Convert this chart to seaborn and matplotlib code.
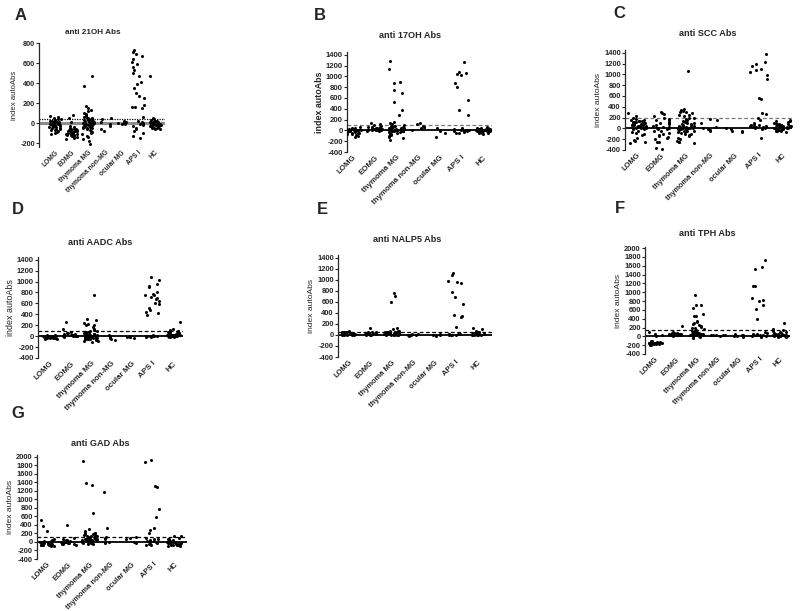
import numpy as np
import pandas as pd
import matplotlib
matplotlib.use("Agg")
import matplotlib.pyplot as plt
import seaborn as sns

sns.set_style("ticks")
plt.rcParams['font.family'] = ['Liberation Sans', 'DejaVu Sans']
plt.rcParams['axes.unicode_minus'] = False

categories = ["LOMG", "EOMG", "thymoma MG", "thymoma non-MG", "ocular MG", "APS I", "HC"]

# ---- anti 21OH Abs (A) ----
oh21 = [
    [70, 60, 50, 45, 40, 35, 30, 25, 20, 15, 10, 5, 0, -5, -10, -15, -20, -25, -30, -35, -40, -45, -50, -55, -60, -65, -70, -80, -90, -100, -110, 20, 0, -20, -40, 10, -10, -30],
    [85, 55, 15, -30, -40, -50, -55, -60, -65, -70, -75, -80, -85, -90, -95, -100, -105, -110, -115, -120, -125, -130, -140, -150, -160, -70, -90, -100, -80, -110, -60, -120],
    [470, 375, 175, 150, 135, 120, 105, 95, 85, 75, 65, 55, 50, 45, 40, 35, 30, 25, 20, 15, 10, 5, 0, -5, -10, -15, -20, -25, -30, -35, -40, -45, -50, -60, -70, -80, -90, -100, -110, -125, -140, -160, -180, -210, 0, 10, -10, 20, -20, 30, -30, 40, -40, 50, 0, -50, 15, -15],
    [55, 40, 10, -10, -30, -60, -75],
    [25, 15, 5, 0, -5, -10],
    [735, 715, 695, 675, 640, 615, 590, 560, 530, 505, 470, 410, 395, 350, 300, 270, 255, 180, 165, 160, 150, 60, 25, 10, 0, -10, -20, -30, -45, -60, -80, -100, -125, -150],
    [470, 50, 40, 30, 25, 20, 15, 10, 5, 0, -5, -10, -15, -20, -25, -30, -35, -40, -45, -50, -55, -60, 0, -10, -20, -30, 10, -40, -5, -15, -25, 20, -35, -45, 0, -20],
]

# ---- anti 17OH Abs (B) ----
oh17 = [
    [60, 45, 35, 25, 15, 10, 5, 0, -5, -10, -15, -20, -30, -40, -50, -60, -70, -80, -100, -115, 20, 0, -20, -40, 10, -10, 30, -30],
    [140, 110, 95, 80, 70, 60, 50, 40, 30, 25, 20, 15, 10, 5, 0, -10, -20, 40, 20, 0, 60, 30],
    [1290, 1130, 900, 880, 740, 700, 520, 370, 290, 150, 130, 110, 100, 90, 80, 70, 60, 50, 40, 30, 20, 10, 0, -10, -20, -30, -40, -50, -60, -70, -80, -100, -120, -150, -180, 0, 10, -10, 20, -20, 30, -30, 40, 50, 0, 5, -5, 15],
    [130, 110, 85, 70, 60, 50, 10],
    [50, 0, -20, -50, -130],
    [1270, 1080, 1060, 1040, 1030, 870, 800, 560, 370, 290, 40, 20, 10, 0, -10, -20, -30, -40, -50, 0, 10, -20],
    [60, 50, 40, 30, 20, 15, 10, 5, 0, -5, -10, -15, -20, -30, -40, -50, -60, 0, 10, -10, 20, -20, 30, -30, 0, 5, -5, 40, -40, 25],
]

# ---- anti SCC Abs (C) ----
scc = [
    [280, 220, 190, 175, 160, 150, 140, 130, 120, 110, 100, 90, 80, 70, 60, 50, 40, 30, 20, 10, 0, -10, -20, -40, -60, -80, -100, -130, -170, -220, -240, -260, -270, 100, 80, 60, 120, 40, 140, 20, 0, 90, 70],
    [300, 280, 260, 220, 200, 180, 150, 120, 100, 80, 50, 20, 0, -20, -50, -80, -100, -130, -150, -160, -180, -200, -250, -260, -360, -380, 60, 30, 10, -10, -40, 150, 100],
    [1060, 360, 345, 330, 300, 280, 250, 220, 200, 180, 160, 140, 120, 100, 80, 60, 40, 20, 0, -20, -40, -60, -80, -100, -120, -150, -180, -200, -230, -250, -260, -270, 0, 20, -20, 40, -40, 60, -60, 80, 100, 10, -10, 30, -30, 150, 200, 250, 300, 0, 50, -50, -100],
    [180, 160, 100, 20, 0, -10, -30, -40],
    [0, -20, -40, -55, -70],
    [1480, 1370, 1220, 1190, 1150, 1100, 1080, 1050, 990, 910, 560, 550, 280, 270, 200, 150, 100, 80, 60, 50, 40, 30, 20, 10, 0, -10, -180, 40, 60, 30],
    [160, 140, 130, 110, 100, 90, 80, 70, 60, 50, 40, 30, 20, 10, 0, -10, -20, -30, -40, -50, -60, 0, 20, 40, 60, 80, -20, 10, 30, 50, 70, -10, 0, 20, 40, -40, 90],
]

# ---- anti AADC Abs (D) ----
aadc = [
    [20, 15, 10, 5, 0, -5, -10, -15, -20, -25, -30, -35, -40, -45, -50, 0, -10, -20, -30, 10, -5, -15, -25],
    [260, 130, 80, 60, 50, 40, 30, 25, 20, 15, 10, 5, 0, -10, 30, 20, 10, 0, 40],
    [750, 320, 300, 250, 230, 210, 200, 160, 130, 110, 100, 90, 80, 70, 60, 50, 40, 30, 20, 10, 0, -10, -20, -30, -40, -50, -60, -70, -80, -90, -100, 0, 10, -10, 20, -20, 30, -30, 40, -40, 50, -50, 0, -60, 5, -5, 15, -15],
    [20, 0, -20, -40, -60, -70],
    [0, -10, -20, -10, -30],
    [1080, 1020, 960, 920, 900, 800, 780, 760, 750, 720, 700, 680, 640, 600, 580, 520, 480, 440, 420, 380, 20, 10, 0, -10, 0, 10, -10, 0, 5, -5],
    [260, 130, 110, 100, 80, 70, 60, 50, 40, 30, 20, 10, 0, -10, -20, 0, 10, 20, 30, 40, 50, -10, 0, 10, 20, -5, 5, 15, 25, 60, 80, 90],
]

# ---- anti NALP5 Abs (E) ----
nalp5 = [
    [80, 60, 50, 40, 30, 20, 10, 0, -10, 40, 20, 0, 60, 30, 10, -5, 50, 20, 5, 15],
    [120, 60, 50, 40, 30, 20, 10, 0, 40, 20, 0, 30, 10, 5, 50, 15],
    [760, 700, 590, 120, 100, 80, 70, 60, 50, 40, 30, 20, 10, 0, -10, 60, 40, 20, 0, 50, 30, 10, -5, 5, 15, 25, 35, 45, 0, 10, 20, 30, 40, 50, 60, 70, 0, 10, 20],
    [20, 10, 0, -10, -20, 5],
    [10, 0, -10, -20],
    [1120, 1080, 980, 960, 950, 780, 680, 570, 370, 350, 320, 140, 20, 10, 0, 10, 0, 20, 5, -5],
    [120, 100, 80, 60, 40, 20, 0, -10, 10, 30, 50, 20, 0, 40, 10, 5, 15, 25, 35, -5],
]

# ---- anti TPH Abs (F) ----
tph = [
    [90, 60, 40, 0, -100, -110, -120, -130, -140, -145, -150, -155, -160, -165, -170, -175, -180, -190, -200, -140, -150, -160, -130, -170, -150, -160],
    [230, 100, 80, 70, 60, 55, 50, 45, 40, 35, 30, 25, 20, 10, 60, 40, 50, 30, 70],
    [930, 720, 700, 640, 500, 470, 450, 340, 300, 280, 260, 220, 200, 180, 150, 120, 100, 80, 60, 40, 20, 0, -20, -30, 60, 40, 20, 0, 80, 100, 10, 30, 50, 70, 90, 110, 130, 160, 240, 320, 0, 20, 40, 60],
    [40, 30, 20, 10, 20, 30],
    [60, 40, 0, -20, 0, 20],
    [1720, 1570, 1530, 1150, 1140, 880, 830, 790, 720, 620, 400, 100, 80, 60, 40, 20, 0, -10, 30, 50, 10],
    [300, 160, 140, 120, 100, 80, 60, 40, 20, 0, -20, 10, 30, 50, 70, 90, 0, 20, 40, 60, -10, 5, 15, 25, 35, 45],
]

# ---- anti GAD Abs (G) ----
gad = [
    [520, 380, 260, 80, 50, 20, 0, -20, -40, -60, -80, -100, 0, -20, -40, -60, -80, -30, -50, -70, 10, -10, -90, 30],
    [400, 100, 60, 40, 20, 0, -20, -40, -60, 0, -20, -40, 20, -10, -30, -50, 10, 30, 50],
    [1900, 1380, 1340, 680, 300, 250, 220, 200, 180, 160, 140, 120, 100, 80, 60, 40, 20, 0, -20, -40, -50, 0, 20, 40, 60, 80, 100, 120, 140, 160, 180, 200, 10, 30, 50, 70, 90, 110, 130, 150, 0, 20, -10, -30, 40, 60],
    [1180, 320, 120, 100, 80, 0, -20],
    [120, 100, 80, 0, -20],
    [1930, 1870, 1320, 1290, 780, 580, 330, 290, 200, 100, 80, 60, 40, 20, 0, -20, -40, -60, -80, 10, -10, 30],
    [150, 130, 100, 60, 20, 0, -20, -40, -60, -80, -100, 0, -20, -40, -60, -80, -30, -50, -70, -10, 10, 40, 80, -90],
]

titles = ["anti 21OH Abs", "anti 17OH Abs", "anti SCC Abs", "anti AADC Abs",
          "anti NALP5 Abs", "anti TPH Abs", "anti GAD Abs"]
letters = ["A", "B", "C", "D", "E", "F", "G"]
cutoffs = [40, 100, 185, 90, 60, 150, 120]

W, H = 800, 611
fig = plt.figure(figsize=(8, 6.11), dpi=100)
fig.patch.set_facecolor("white")

# layout (pixels): left, right, top, bottom; font sizes per panel
layout = [
    dict(box=(39, 165, 43, 147), ylim=(-240, 800), yt=(-200, 800), xlim=(-0.96, 6.6),
         title=(93, 32), letter=(21, 15), cut_ls=(0, (1, 1)), cut_col="black",
         zero_col="#8c8c8c", zero_lw=2.2, xfs=4.8, yfs=5.3, lfs=5.6, lw="normal", tfs=5.9),
    dict(box=(347, 492, 52, 152), ylim=(-400, 1450), yt=(-400, 1400), xlim=(-0.28, 6.41),
         title=(410, 35), letter=(320, 15), cut_ls=(0, (3, 2)), cut_col="#777777",
         zero_col="black", zero_lw=1.3, xfs=5.7, yfs=5.6, lfs=6.4, lw="bold", tfs=6.6),
    dict(box=(625, 792, 50, 150), ylim=(-400, 1450), yt=(-400, 1400), xlim=(-0.49, 6.37),
         title=(708, 33), letter=(619, 14), cut_ls=(0, (3, 2)), cut_col="#777777",
         zero_col="black", zero_lw=1.3, xfs=5.4, yfs=5.4, lfs=6.1, lw="normal", tfs=6.6),
    dict(box=(38, 183, 257, 358), ylim=(-400, 1450), yt=(-400, 1400), xlim=(-0.59, 6.49),
         title=(100, 242), letter=(18, 210), cut_ls=(0, (3, 2)), cut_col="black",
         zero_col="black", zero_lw=1.3, xfs=5.7, yfs=5.6, lfs=6.4, lw="normal", tfs=6.6),
    dict(box=(338, 492, 255, 357), ylim=(-400, 1450), yt=(-400, 1400), xlim=(-0.52, 6.7),
         title=(407, 240), letter=(322, 210), cut_ls=(0, (3, 2)), cut_col="black",
         zero_col="black", zero_lw=1.3, xfs=5.4, yfs=5.4, lfs=6.1, lw="normal", tfs=6.6),
    dict(box=(645, 790, 247, 354), ylim=(-400, 2025), yt=(-400, 2000), xlim=(-0.48, 6.48),
         title=(707, 233), letter=(620, 208), cut_ls=(0, (3, 2)), cut_col="black",
         zero_col="black", zero_lw=1.3, xfs=5.4, yfs=5.4, lfs=6.1, lw="normal", tfs=6.6),
    dict(box=(37, 187, 455, 559), ylim=(-400, 2045), yt=(-400, 2000), xlim=(-0.47, 6.61),
         title=(100, 443), letter=(18, 413), cut_ls=(0, (3, 2)), cut_col="black",
         zero_col="black", zero_lw=1.3, xfs=5.4, yfs=5.4, lfs=6.1, lw="normal", tfs=6.6),
]

datasets = [oh21, oh17, scc, aadc, nalp5, tph, gad]

np.random.seed(7)
for data, ttl, let, cut, lay in zip(datasets, titles, letters, cutoffs, layout):
    l, r, t, b = lay["box"]
    ax = fig.add_axes([l / W, 1 - b / H, (r - l) / W, (b - t) / H])
    groups, values = [], []
    for cat, vals in zip(categories, data):
        groups += [cat] * len(vals)
        values += list(vals)
    df = pd.DataFrame({"group": groups, "value": values})
    sns.stripplot(data=df, x="group", y="value", order=categories, color="black",
                  size=2.2, jitter=0.36, linewidth=0, ax=ax, zorder=3)
    ax.axhline(0, color=lay["zero_col"], lw=lay["zero_lw"], zorder=2)
    ax.axhline(cut, color=lay["cut_col"], lw=0.9, ls=lay["cut_ls"], zorder=2)
    ax.set_xlim(*lay["xlim"])
    ax.set_ylim(*lay["ylim"])
    ax.set_yticks(np.arange(lay["yt"][0], lay["yt"][1] + 1, 200))
    ax.set_xticks(range(len(categories)))
    ax.set_xticklabels(categories, rotation=45, ha="right", rotation_mode="anchor",
                       fontsize=lay["xfs"], fontweight="bold")
    for lab in ax.get_yticklabels():
        lab.set_fontweight("bold")
    ax.tick_params(axis="y", labelsize=lay["yfs"], length=2, width=0.8, pad=1)
    ax.tick_params(axis="x", length=0, pad=1.5)
    ax.set_xlabel("")
    ax.set_ylabel("index autoAbs", fontsize=lay["lfs"], fontweight=lay["lw"], labelpad=1.5)
    for s in ("top", "right", "bottom"):
        ax.spines[s].set_visible(False)
    ax.spines["left"].set_linewidth(0.9)
    ax.patch.set_alpha(0)
    fig.text(lay["title"][0] / W, 1 - lay["title"][1] / H, ttl, ha="center", va="center",
             fontsize=lay["tfs"], fontweight="bold")
    fig.text(lay["letter"][0] / W, 1 - lay["letter"][1] / H, let, ha="center", va="center",
             fontsize=12, fontweight="bold")

fig.savefig("out.png", dpi=100, facecolor="white")
